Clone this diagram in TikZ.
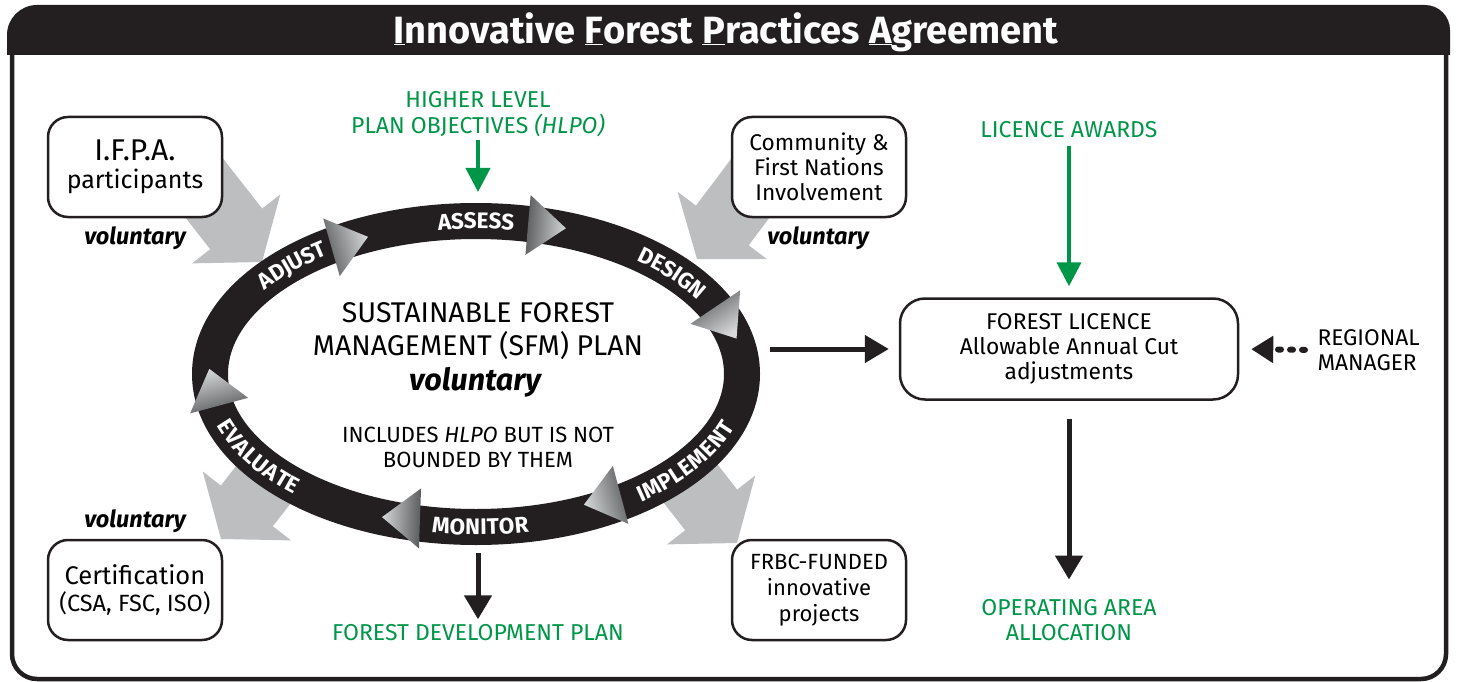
\documentclass[tikz,border=0pt]{standalone}
\usepackage{fontspec}
\setmainfont{Fira Sans}
\usetikzlibrary{arrows.meta,positioning,decorations.text}
\definecolor{ink}{RGB}{35,31,32}
\definecolor{fgreen}{RGB}{0,150,72}
\definecolor{fog}{RGB}{188,190,192}
\definecolor{tridark}{RGB}{88,89,91}
\definecolor{trilight}{RGB}{215,216,218}
\newcommand\ringfont{\bfseries\fontsize{22.5}{22.5}\selectfont}

\begin{document}
\begin{tikzpicture}[x=1pt,y=1pt,
    box/.style={draw=ink, line width=2.5pt, rounded corners=20pt, fill=white,
      align=center, minimum width=174pt, minimum height=100pt, inner sep=0pt},
    greenlbl/.style={text=fgreen, align=center, font=\fontsize{23}{25.5}\selectfont},
    vol/.style={font=\bfseries\itshape\fontsize{23.5}{24}\selectfont},
    ringtext/.style={decorate, decoration={text along path, text={|\ringfont|#1},
      text align=center, text color=white, raise=-7.8pt}},
    blackarrow/.style={draw=ink, line width=5pt, -{Triangle[length=24pt,width=27pt]}},
    greenarrow/.style={draw=fgreen, line width=4pt, -{Triangle[length=24pt,width=24pt]}}]

    \useasboundingbox (0,0) rectangle (1457,-682);

    \draw[ink, line width=4.5pt, rounded corners=25pt] (12,-40) -- (12,-679) -- (1446,-679) -- (1446,-40);
    \fill[ink] (7,-55) -- (7,-35) arc[start angle=180, end angle=90, radius=30]
      -- (1425,-5) arc[start angle=90, end angle=0, radius=25] -- (1450,-55) -- cycle;
    \node[text=white, font=\bfseries\fontsize{38}{38}\selectfont] (title) at (726,-32)
      {\underline{I}nnovative \underline{F}orest \underline{P}ractices \underline{A}greement};

    \foreach \x/\y/\a/\l in {262/262/-52/130, 697/259/-127/130, 221/539/-128/120, 737/543/-52/120}
      \fill[fog, shift={(\x,-\y)}, rotate=\a] (0,0) -- (-42,56) -- (-42,33) -- (-\l,33)
        -- (-\l,-33) -- (-42,-33) -- (-42,-56) -- cycle;

    \coordinate (C) at (476,-374);
    \draw[ink, line width=36pt, fill=white] (C) ellipse [x radius=266, y radius=153];

    \foreach \x/\y/\a in {343/244/16, 540/226/-5, 722/317/-56, 609/498/195, 408/518/178, 216/394/105}
      \shade[top color=tridark, bottom color=trilight, shading angle=\a+90, shift={(\x,-\y)}, rotate=\a]
        (26,0) -- (-12,30) -- (-12,-30) -- cycle;

    \path[ringtext=ASSESS, shift={(C)}] (115:266 and 153) arc[start angle=115, end angle=65, x radius=266, y radius=153];
    \path[ringtext=DESIGN, shift={(C)}] (62:266 and 153) arc[start angle=62, end angle=18, x radius=266, y radius=153];
    \path[ringtext=ADJUST, shift={(C)}] (158:266 and 153) arc[start angle=158, end angle=114, x radius=266, y radius=153];
    \path[ringtext=IMPLEMENT, shift={(C)}] (-66:266 and 153) arc[start angle=-66, end angle=2, x radius=266, y radius=153];
    \path[ringtext=MONITOR, shift={(C)}] (-120:266 and 153) arc[start angle=-120, end angle=-58, x radius=266, y radius=153];
    \path[ringtext=EVALUATE, shift={(C)}] (-186:266 and 153) arc[start angle=-186, end angle=-116, x radius=266, y radius=153];

    \node[align=center, font=\fontsize{28.5}{33}\selectfont] (sfm) at (478,-331)
      {SUSTAINABLE FOREST\\MANAGEMENT (SFM) PLAN};
    \node[font=\bfseries\itshape\fontsize{30.5}{32}\selectfont] (sfmvol) at (475,-382) {voluntary};
    \node[align=center, font=\fontsize{22}{25}\selectfont] (bound) at (478,-447)
      {INCLUDES \textit{HLPO} BUT IS NOT\\BOUNDED BY THEM};

    \node[greenlbl] (hlo) at (478,-114) {HIGHER LEVEL\\PLAN OBJECTIVES \textit{(HLPO)}};
    \coordinate (ringN) at (478,-192);
    \draw[greenarrow] (hlo.south) -- (ringN);

    \node[box, font=\fontsize{25}{28}\selectfont] (ifpa) at (135,-167)
      {{\fontsize{30}{30}\selectfont I.F.P.A.}\\participants};
    \node[vol] (ifpavol) at (135,-238) {voluntary};
    \node[box, font=\fontsize{22.7}{25}\selectfont] (fn) at (819,-167)
      {Community \&\\First Nations\\Involvement};
    \node[vol] (fnvol) at (818,-238) {voluntary};
    \node[box, font=\fontsize{25.5}{27}\selectfont] (cert) at (135,-590)
      {Certification\\{\fontsize{23.5}{24}\selectfont(CSA, FSC, ISO)}};
    \node[vol] (certvol) at (135,-521) {voluntary};
    \node[box, font=\fontsize{22}{26}\selectfont] (frbc) at (819,-590)
      {FRBC-FUNDED\\innovative\\projects};

    \node[box, rounded corners=25pt, minimum width=338pt, minimum height=101pt,
      font=\fontsize{22.8}{25}\selectfont] (fl) at (1069,-349)
      {FOREST LICENCE\\Allowable Annual Cut\\adjustments};
    \node[greenlbl] (awards) at (1069,-130) {LICENCE AWARDS};
    \node[greenlbl] (oaa) at (1069,-620) {OPERATING AREA\\ALLOCATION};
    \node[align=left, anchor=west, font=\fontsize{22.7}{25}\selectfont] (rm) at (1314,-350)
      {REGIONAL\\MANAGER};
    \node[greenlbl] (fdp) at (478,-633) {FOREST DEVELOPMENT PLAN};

    \coordinate (ringE) at (770,-349);
    \coordinate (ringS) at (478,-553);
    \draw[blackarrow, shorten >=10pt] (ringE) -- (fl.west);
    \draw[greenarrow, shorten <=4pt, shorten >=11pt] (awards.south) -- (fl.north);
    \draw[blackarrow, shorten <=18pt, shorten >=16pt] (fl.south) -- (oaa.north);
    \draw[blackarrow, shorten >=2pt] (ringS) -- (fdp.north);
    \draw[ink, line width=6pt, line cap=round, dash pattern=on 3pt off 9pt,
      -{Triangle[length=22pt,width=26pt]}, shorten <=9pt, shorten >=12pt] (rm.west) -- (fl.east);
\end{tikzpicture}
\end{document}
